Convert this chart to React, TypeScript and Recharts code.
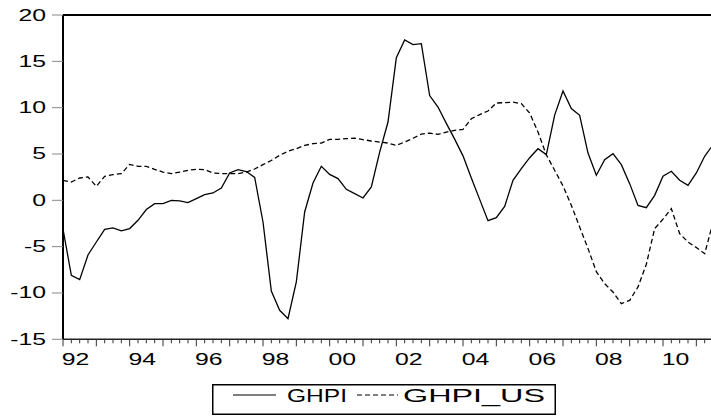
import React from 'react';
import { LineChart, Line, XAxis, YAxis, ReferenceLine, Legend } from 'recharts';

const startYear = 1992;

const ghpi = [
  -3.1, -8.1, -8.56, -5.9, -4.5, -3.13, -2.98, -3.3, -3.05, -2.16,
  -1.0, -0.36, -0.36, 0.0, -0.07, -0.25, 0.18, 0.61, 0.79, 1.33,
  2.95, 3.3, 3.1, 2.47, -2.34, -9.8, -11.87, -12.77, -8.8, -1.26,
  1.87, 3.67, 2.8, 2.34, 1.19, 0.72, 0.25, 1.44, 5.2, 8.45,
  15.4, 17.3, 16.8, 16.9, 11.3, 10.07, 8.3, 6.6, 4.8, 2.4,
  0.1, -2.2, -1.87, -0.65, 2.16, 3.42, 4.6, 5.57, 4.93, 9.2,
  11.8, 9.9, 9.17, 5.1, 2.7, 4.39, 5.03, 3.85, 1.8, -0.55,
  -0.79, 0.54, 2.59, 3.13, 2.16, 1.62, 2.95, 4.75, 6.0,
];

const ghpiUs = [
  2.16, 1.98, 2.41, 2.52, 1.51, 2.59, 2.77, 2.88, 3.88, 3.67,
  3.67, 3.34, 3.05, 2.88, 3.05, 3.24, 3.34, 3.31, 2.95, 2.88,
  2.88, 2.88, 3.05, 3.38, 3.85, 4.3, 4.86, 5.29, 5.57, 5.93,
  6.11, 6.18, 6.58, 6.58, 6.65, 6.72, 6.55, 6.4, 6.29, 6.18,
  5.93, 6.29, 6.7, 7.15, 7.26, 7.12, 7.37, 7.55, 7.66, 8.8,
  9.25, 9.64, 10.5, 10.54, 10.6, 10.43, 9.42, 7.37, 4.9, 3.24,
  1.55, -0.54, -2.88, -5.2, -7.7, -9.0, -9.9, -11.15, -10.8, -9.35,
  -6.9, -3.05, -2.03, -0.9, -3.6, -4.5, -5.1, -5.76, -2.4,
];

const yearLabels = ['92', '94', '96', '98', '00', '02', '04', '06', '08', '10'];
const yTicks = [-15, -10, -5, 0, 5, 10, 15, 20];

const data = ghpi.map((v, i) => ({
  q: i,
  period: `${startYear + Math.floor(i / 4)}Q${(i % 4) + 1}`,
  GHPI: v,
  GHPI_US: ghpiUs[i],
}));

const labelAt = new Map<number, string>();
yearLabels.forEach((l) => {
  const n = parseInt(l, 10);
  const yr = n >= 50 ? 1900 + n : 2000 + n;
  labelAt.set((yr - startYear) * 4 + 1.5, l);
});

const quarterTicks = data.filter((d) => d.q < 78).map((d) => d.q);
const xTicks = [...quarterTicks, ...Array.from(labelAt.keys())].sort((a, b) => a - b);

const FONT = '"Liberation Sans", Arial, Helvetica, sans-serif';

const XTick = (props: any) => {
  const { x, y, payload } = props;
  const v = payload.value;
  if (Number.isInteger(v)) {
    const major = v % 4 === 0;
    return <line x1={x} x2={x} y1={y} y2={y + (major ? 7 : 4)} stroke="#333" strokeWidth={1} />;
  }
  return (
    <text
      transform={`translate(${x},${y + 25.7}) scale(1.55,1)`}
      textAnchor="middle"
      fontSize={16}
      fontFamily={FONT}
      fill="#000"
    >
      {labelAt.get(v)}
    </text>
  );
};

const YTick = (props: any) => {
  const { x, y, payload } = props;
  return (
    <g>
      <line x1={x - 11} x2={x} y1={y} y2={y} stroke="#888" strokeWidth={1} />
      <text
        transform={`translate(${x - 17},${y + 5.5}) scale(1.55,1)`}
        textAnchor="end"
        fontSize={16}
        fontFamily={FONT}
        fill="#000"
      >
        {payload.value}
      </text>
    </g>
  );
};

const LegendBox = () => (
  <svg width={345} height={32} style={{ display: 'block' }}>
    <rect x={0.75} y={0.75} width={342.5} height={29.5} fill="#fff" stroke="#000" strokeWidth={1.5} />
    <line x1={21} x2={64} y1={11} y2={11} stroke="#000" strokeWidth={1.2} />
    <text x={75} y={18} fontSize={18} fontFamily={FONT} textLength={60} lengthAdjust="spacingAndGlyphs" fill="#000">
      GHPI
    </text>
    <line x1={145} x2={186} y1={11} y2={11} stroke="#000" strokeWidth={1.2} strokeDasharray="5 3" />
    <text x={191} y={18} fontSize={18} fontFamily={FONT} textLength={142} lengthAdjust="spacingAndGlyphs" fill="#000">
      GHPI_US
    </text>
  </svg>
);

export default function App() {
  return (
    <div style={{ position: 'absolute', left: 0, top: 0, width: 711, height: 417, background: '#fff' }}>
      <LineChart width={711} height={417} data={data} margin={{ top: 15, right: 0, left: 0, bottom: 0 }}>
        <XAxis
          dataKey="q"
          type="number"
          domain={[0, 77.76]}
          allowDataOverflow
          ticks={xTicks}
          interval={0}
          tick={<XTick />}
          tickLine={false}
          tickSize={0}
          tickMargin={0}
          height={77.7}
          axisLine={{ stroke: '#222', strokeWidth: 1.5 }}
        />
        <YAxis
          type="number"
          domain={[-15, 20]}
          ticks={yTicks}
          interval={0}
          width={63}
          tick={<YTick />}
          tickLine={false}
          tickSize={0}
          tickMargin={0}
          axisLine={{ stroke: '#000', strokeWidth: 2 }}
        />
        <ReferenceLine y={20} stroke="#000" strokeWidth={2} />
        <Line
          type="linear"
          dataKey="GHPI"
          stroke="#000"
          strokeWidth={1.3}
          dot={false}
          activeDot={false}
          isAnimationActive={false}
        />
        <Line
          type="linear"
          dataKey="GHPI_US"
          stroke="#000"
          strokeWidth={1.3}
          strokeDasharray="5 3"
          dot={false}
          activeDot={false}
          isAnimationActive={false}
        />
        <Legend
          layout="horizontal"
          verticalAlign="middle"
          align="center"
          wrapperStyle={{ left: 212, top: 384, width: 345, height: 32 }}
          content={() => <LegendBox />}
        />
      </LineChart>
    </div>
  );
}
